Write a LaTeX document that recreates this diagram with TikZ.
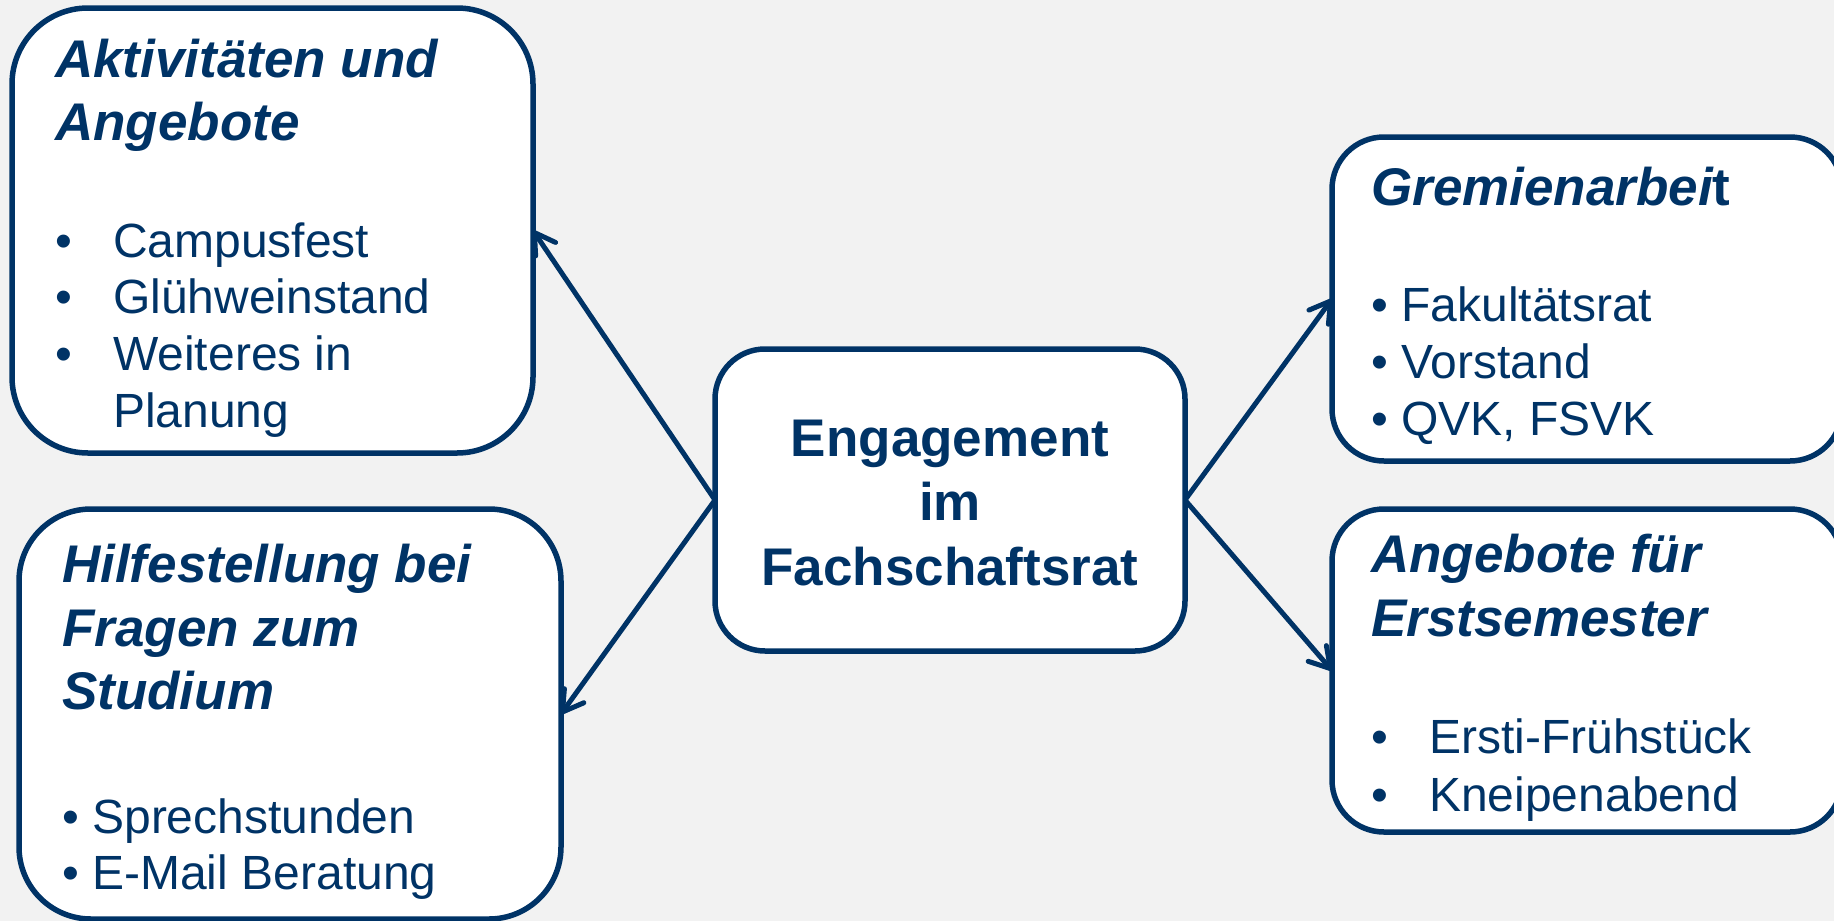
\documentclass[tikz,border=0pt]{standalone}
\usepackage{fontspec}
\setmainfont{Liberation Sans}
\usetikzlibrary{arrows.meta}
\definecolor{navy}{HTML}{003366}
\definecolor{bgc}{HTML}{F2F2F2}
\begin{document}
\begin{tikzpicture}[x=1pt,y=-1pt,
  box/.style={draw=navy, fill=white, line width=5.5pt, rounded corners=#1, inner sep=0pt, outer sep=0pt},
  ttl/.style={anchor=base west, inner sep=0pt, text=navy, font=\fontsize{53}{63}\selectfont\bfseries\itshape},
  itm/.style={anchor=base west, inner sep=0pt, text=navy, font=\fontsize{48}{57}\selectfont},
  ctr/.style={anchor=base, inner sep=0pt, text=navy, font=\fontsize{53}{64}\selectfont\bfseries},
  conn/.style={draw=navy, line width=5pt, -{Straight Barb[length=20pt,width=24pt,round]}}]
\fill[bgc] (0,0) rectangle (1834,921);
\useasboundingbox (0,0) rectangle (1834,921);

% boxes
\node[box=76pt, minimum width=521pt, minimum height=445pt] (A) at (272.5,230.5) {};
\node[box=72pt, minimum width=542pt, minimum height=410pt] (B) at (290,714) {};
\node[box=50pt, minimum width=470pt, minimum height=302pt] (M) at (950,500) {};
\node[box=52pt, minimum width=510pt, minimum height=324pt] (C) at (1587,299) {};
\node[box=52pt, minimum width=510pt, minimum height=323pt] (D) at (1587,670.5) {};

% box A
\node[ttl] (a1) at (55,77) {Aktivitäten und};
\node[ttl] (a2) at (55,140) {Angebote};
\node[itm] (ab1) at (55,257) {•};
\node[itm] (ab2) at (55,313) {•};
\node[itm] (ab3) at (55,370) {•};
\node[itm] (at1) at (113,257) {Campusfest};
\node[itm] (at2) at (113,313) {Glühweinstand};
\node[itm] (at3) at (113,370) {Weiteres in};
\node[itm] (at4) at (113,427) {Planung};

% box B
\node[ttl] (b1) at (62,582) {Hilfestellung bei};
\node[ttl] (b2) at (62,646) {Fragen zum};
\node[ttl] (b3) at (62,709) {Studium};
\node[itm] (bt1) at (62,833) {• Sprechstunden};
\node[itm] (bt2) at (62,889) {• E-Mail Beratung};

% center
\node[ctr] (m1) at (950,456) {Engagement};
\node[ctr] (m2) at (950,520) {im};
\node[ctr] (m3) at (950,585) {Fachschaftsrat};

% box C
\node[ttl] (c1) at (1371,205) {Gremienarbei\upshape t};
\node[itm] (ct1) at (1371,321) {• Fakultätsrat};
\node[itm] (ct2) at (1371,378) {• Vorstand};
\node[itm] (ct3) at (1371,435) {• QVK, FSVK};

% box D
\node[ttl] (d1) at (1371,572) {Angebote für};
\node[ttl] (d2) at (1371,636) {Erstsemester};
\node[itm] (db1) at (1371,753) {•};
\node[itm] (db2) at (1371,811) {•};
\node[itm] (dt1) at (1429,753) {Ersti-Frühstück};
\node[itm] (dt2) at (1429,811) {Kneipenabend};

% connectors
\draw[conn] (M.west) -- (A.east);
\draw[conn] (M.west) -- (B.east);
\draw[conn] (M.east) -- (C.west);
\draw[conn] (M.east) -- (D.west);
\end{tikzpicture}
\end{document}
